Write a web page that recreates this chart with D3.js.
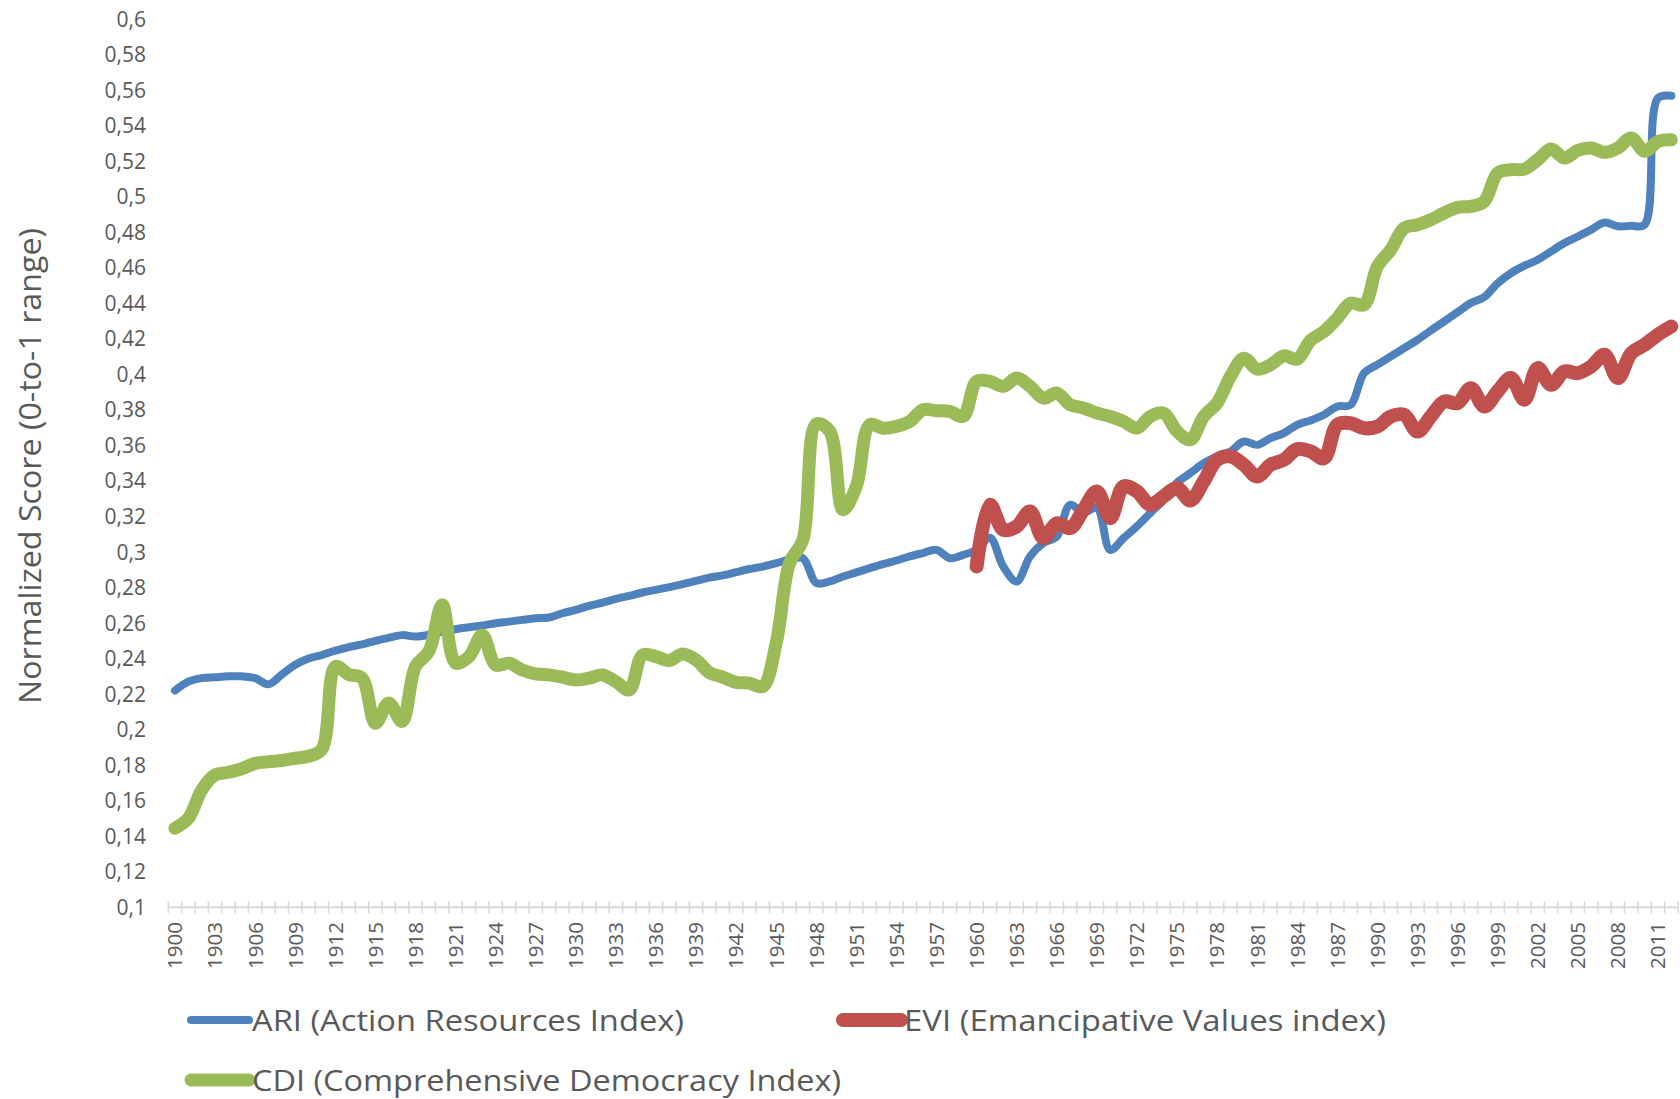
<!DOCTYPE html>
<html>
<head>
<meta charset="utf-8">
<script src="https://cdn.jsdelivr.net/npm/d3@7"></script>
<style>
body { margin: 0; background: #fff; }
svg { display: block; font-family: "Open Sans", sans-serif; }
</style>
</head>
<body>
<svg id="chart" width="1680" height="1099"></svg>
<script>
// yearly categories, 1900..2012
const years = d3.range(1900, 2013);

// ARI (Action Resources Index), 1900..2012
const ari = [
    0.222, 0.227, 0.229, 0.2295, 0.230, 0.230, 0.229, 0.2255, 0.231, 0.2365,
    0.240, 0.242, 0.2445, 0.2465, 0.248, 0.250, 0.2517, 0.2532, 0.2524, 0.2534,
    0.2552, 0.2565, 0.2576, 0.2586, 0.2599, 0.2608, 0.2618, 0.2627, 0.2631, 0.2655,
    0.2674, 0.2697, 0.2715, 0.2736, 0.2753, 0.2772, 0.2787, 0.2802, 0.2819, 0.2837,
    0.2856, 0.2868, 0.2886, 0.2904, 0.2918, 0.2937, 0.2956, 0.2965, 0.2825, 0.2834,
    0.2862, 0.2885, 0.2909, 0.2932, 0.2952, 0.2975, 0.2994, 0.3012, 0.2965, 0.2984,
    0.3012, 0.308, 0.2918, 0.2834, 0.2975, 0.305, 0.3087, 0.3266, 0.322, 0.325,
    0.3012, 0.3078, 0.3144, 0.3219, 0.3294, 0.339, 0.3444, 0.350, 0.3538, 0.3566,
    0.3622, 0.3603, 0.3641, 0.3669, 0.3716, 0.374, 0.3772, 0.3819, 0.3828, 0.4007,
    0.4054, 0.4101, 0.4147, 0.4194, 0.4247, 0.4298, 0.435, 0.4401, 0.4435, 0.4513,
    0.457, 0.4611, 0.4645, 0.4692, 0.4739, 0.4776, 0.4814, 0.4855, 0.4833, 0.4836,
    0.4842, 0.5555, 0.5568
];

// CDI (Comprehensive Democracy Index), 1900..2012
const cdi = [
    0.1445, 0.150, 0.166, 0.1745, 0.176, 0.178, 0.181, 0.182, 0.1826, 0.1839,
    0.185, 0.189, 0.2355, 0.231, 0.229, 0.2036, 0.215, 0.2046, 0.2355, 0.244,
    0.2703, 0.2374, 0.241, 0.2533, 0.2364, 0.2374, 0.2336, 0.2314, 0.2308, 0.2295,
    0.228, 0.229, 0.2308, 0.227, 0.2224, 0.242, 0.2411, 0.2389, 0.2426, 0.2393,
    0.2321, 0.2295, 0.2266, 0.2262, 0.2243, 0.2487, 0.2937, 0.3069, 0.372, 0.368,
    0.3238, 0.337, 0.3716, 0.3697, 0.3707, 0.3735, 0.3801, 0.3795, 0.3791, 0.3763,
    0.396, 0.396, 0.3932, 0.3979, 0.3932, 0.3866, 0.3894, 0.3829, 0.381, 0.3782,
    0.3763, 0.3735, 0.3697, 0.3763, 0.3782, 0.3679, 0.3632, 0.3763, 0.3838, 0.3988,
    0.4091, 0.4029, 0.4054, 0.4104, 0.4086, 0.4191, 0.4241, 0.4316, 0.4401, 0.4391,
    0.4607, 0.4701, 0.4823, 0.4842, 0.487, 0.4908, 0.494, 0.4945, 0.4973, 0.5133,
    0.5152, 0.5155, 0.5208, 0.5268, 0.5217, 0.526, 0.5274, 0.5249, 0.5274, 0.533,
    0.5255, 0.5311, 0.532
];

// EVI (Emancipative Values index), 1960..2012
const eviStart = 1960;
const evi = [
    0.2918, 0.3266, 0.3125, 0.3144, 0.3228, 0.3078, 0.3162, 0.3134, 0.3238, 0.3341,
    0.319, 0.3369, 0.3341, 0.3266, 0.3313, 0.336, 0.329, 0.3397, 0.3519, 0.3538,
    0.3491, 0.3425, 0.3491, 0.3519, 0.3579, 0.3566, 0.3528, 0.3716, 0.3725, 0.3697,
    0.3706, 0.3763, 0.3772, 0.3678, 0.3763, 0.3847, 0.3838, 0.3922, 0.3819, 0.3904,
    0.3979, 0.3857, 0.4035, 0.3941, 0.4016, 0.4007, 0.4044, 0.411, 0.3979, 0.4119,
    0.4166, 0.4223, 0.4269
];

const yTicks = [0.1, 0.12, 0.14, 0.16, 0.18, 0.2, 0.22, 0.24, 0.26, 0.28, 0.3,
                0.32, 0.34, 0.36, 0.38, 0.4, 0.42, 0.44, 0.46, 0.48, 0.5,
                0.52, 0.54, 0.56, 0.58, 0.6];
const yTickLabels = ["0,1", "0,12", "0,14", "0,16", "0,18", "0,2", "0,22", "0,24", "0,26", "0,28", "0,3",
                     "0,32", "0,34", "0,36", "0,38", "0,4", "0,42", "0,44", "0,46", "0,48", "0,5",
                     "0,52", "0,54", "0,56", "0,58", "0,6"];
const xTickLabels = [1900, 1903, 1906, 1909, 1912, 1915, 1918, 1921, 1924, 1927, 1930,
                     1933, 1936, 1939, 1942, 1945, 1948, 1951, 1954, 1957, 1960, 1963,
                     1966, 1969, 1972, 1975, 1978, 1981, 1984, 1987, 1990, 1993, 1996,
                     1999, 2002, 2005, 2008, 2011];

const series = [
    {name: "ARI (Action Resources Index)", color: "#4f81bd", width: 8,
     values: years.map((yr, i) => ({year: yr, v: ari[i]}))},
    {name: "EVI (Emancipative Values index)", color: "#c0504d", width: 14,
     values: years.map(yr => ({year: yr, v: yr >= eviStart ? evi[yr - eviStart] : null}))},
    {name: "CDI (Comprehensive Democracy Index)", color: "#9bbb59", width: 13,
     values: years.map((yr, i) => ({year: yr, v: cdi[i]}))}
];

const svg = d3.select("#chart");
const textColor = "#595959";

const x = d3.scaleBand().domain(years).range([168.3, 1678]);
const y = d3.scaleLinear().domain([0.1, 0.6]).range([907.3, 19]);
const xc = (yr) => x(yr) + x.bandwidth() / 2;

// y labels, no axis line
svg.append("g").attr("class", "y-labels")
    .selectAll("text").data(yTicks).join("text")
    .attr("x", 146)
    .attr("y", d => y(d))
    .attr("dy", "0.36em")
    .attr("text-anchor", "end")
    .attr("font-size", 21)
    .attr("fill", textColor)
    .text((d, i) => yTickLabels[i]);

svg.append("text")
    .attr("transform", `translate(30, 466) rotate(-90)`)
    .attr("dy", "0.36em")
    .attr("text-anchor", "middle")
    .attr("font-size", 31)
    .attr("fill", textColor)
    .attr("textLength", 476)
    .attr("lengthAdjust", "spacingAndGlyphs")
    .text("Normalized Score (0-to-1 range)");

// category axis: line + crossing ticks at band edges
let gx = svg.append("g").attr("class", "x-axis");
let y0 = y(0.1);
gx.append("line")
    .attr("x1", x.range()[0]).attr("x2", x.range()[1])
    .attr("y1", y0).attr("y2", y0)
    .attr("stroke", "#d9d9d9").attr("stroke-width", 2);
gx.selectAll("line.tick").data(d3.range(years.length + 1)).join("line")
    .attr("class", "tick")
    .attr("x1", i => x.range()[0] + i * x.step())
    .attr("x2", i => x.range()[0] + i * x.step())
    .attr("y1", y0 - 6).attr("y2", y0 + 6)
    .attr("stroke", "#d9d9d9").attr("stroke-width", 1.5);
gx.selectAll("text").data(xTickLabels).join("text")
    .attr("transform", d => `translate(${xc(d)}, 922) rotate(-90)`)
    .attr("dy", "0.36em")
    .attr("text-anchor", "end")
    .attr("font-size", 20.5)
    .attr("fill", textColor)
    .text(d => d);

// lines, smoothed like the spreadsheet's "smoothed line" option
let line = d3.line()
    .defined(d => d.v != null)
    .x(d => xc(d.year))
    .y(d => y(d.v))
    .curve(d3.curveCatmullRom.alpha(0.5));

svg.append("g").attr("class", "lines")
    .selectAll("path").data(series).join("path")
    .attr("d", d => line(d.values))
    .attr("fill", "none")
    .attr("stroke", d => d.color)
    .attr("stroke-width", d => d.width)
    .attr("stroke-linecap", "round")
    .attr("stroke-linejoin", "round");

// legend
const legendPos = [
    {x: 191, y: 1020, len: 432},
    {x: 843, y: 1020, len: 482},
    {x: 191, y: 1080, len: 589}
];
let lg = svg.append("g").attr("class", "legend")
    .selectAll("g").data(series).join("g")
    .attr("transform", (d, i) => `translate(${legendPos[i].x}, ${legendPos[i].y})`);
lg.append("line")
    .attr("x1", 0).attr("x2", 58)
    .attr("y1", 0).attr("y2", 0)
    .attr("stroke", d => d.color)
    .attr("stroke-width", d => d.width)
    .attr("stroke-linecap", "round");
lg.append("text")
    .attr("x", 61)
    .attr("dy", "0.36em")
    .attr("font-size", 30)
    .attr("fill", textColor)
    .attr("textLength", (d, i) => legendPos[i].len)
    .attr("lengthAdjust", "spacingAndGlyphs")
    .text(d => d.name);
</script>
</body>
</html>
